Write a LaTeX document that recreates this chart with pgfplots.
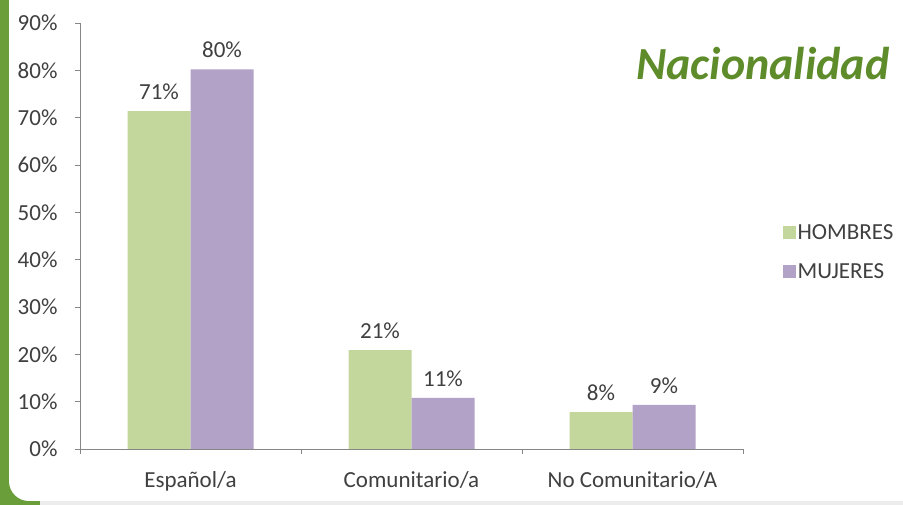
\documentclass[border=0pt]{standalone}
\usepackage{pgfplots}
\pgfplotsset{compat=1.18}
\usepackage{fontspec}
\setmainfont{Carlito}

\definecolor{hombres}{HTML}{C3D69B}
\definecolor{mujeres}{HTML}{B3A2C7}
\definecolor{titlegreen}{HTML}{5E8C2A}
\definecolor{framegreen}{HTML}{6A9E3A}
\definecolor{axisgray}{HTML}{868686}
\definecolor{txt}{HTML}{404040}

\begin{document}
\begin{tikzpicture}
\useasboundingbox (0,0) rectangle (903pt,505pt);
% background frame
\fill[gray!15] (0,0) rectangle (903pt,505pt);
\fill[framegreen] (0,0) rectangle (40pt,505pt);
\fill[white, rounded corners=20pt] (9pt,4pt) rectangle (960pt,525pt);
\fill[white] (30pt,505pt) rectangle (903pt,480pt);

\begin{axis}[
    at={(80pt,56pt)}, anchor=south west,
    scale only axis,
    width=663pt, height=426pt,
    ybar=0pt, bar width=63pt,
    xmin=-0.5, xmax=2.5,
    ymin=0, ymax=90,
    axis x line=bottom, axis y line=left,
    axis line style={-, draw=axisgray, line width=0.8pt},
    tick align=outside, major tick length=5pt,
    ytick={0,10,...,90},
    yticklabel={\pgfmathprintnumber{\tick}\%},
    ytick style={draw=axisgray, line width=0.8pt},
    xtick={0,1,2},
    xticklabels={Español/a, Comunitario/a, No Comunitario/A},
    xtick style={draw=none},
    extra x ticks={-0.5,0.5,1.5,2.5},
    extra x tick labels={},
    extra x tick style={xtick style={draw=axisgray, line width=0.8pt}},
    ticklabel style={font=\fontsize{23}{27}\selectfont, text=txt},
    /pgf/number format/assume math mode=true,
    yticklabel style={xshift=-14pt},
    xticklabel style={yshift=-14pt},
    nodes near coords={\pgfmathprintnumber[fixed,precision=0]{\pgfplotspointmeta}\%},
    every node near coord/.append style={font=\fontsize{23}{27}\selectfont, text=txt, yshift=8pt},
    legend style={at={(1.055,0.462)}, anchor=west, draw=none, fill=none,
        font=\fontsize{23}{27}\selectfont, text=txt, row sep=18pt,
        /tikz/every even column/.append style={column sep=5pt}},
    legend cell align=left,
    legend image code/.code={\fill[#1] (0pt,-6.5pt) rectangle (13pt,6.5pt);},
    clip=false,
]
\addplot[fill=hombres, draw=none] coordinates {(0,71.4) (1,20.9) (2,7.8)};
\addplot[fill=mujeres, draw=none] coordinates {(0,80.2) (1,10.8) (2,9.3)};
\legend{HOMBRES, MUJERES}
\node[font=\fontsize{46}{52}\selectfont\bfseries\itshape, text=titlegreen]
    at (rel axis cs:1.03,0.906) {Nacionalidad};
\end{axis}
\end{tikzpicture}
\end{document}
